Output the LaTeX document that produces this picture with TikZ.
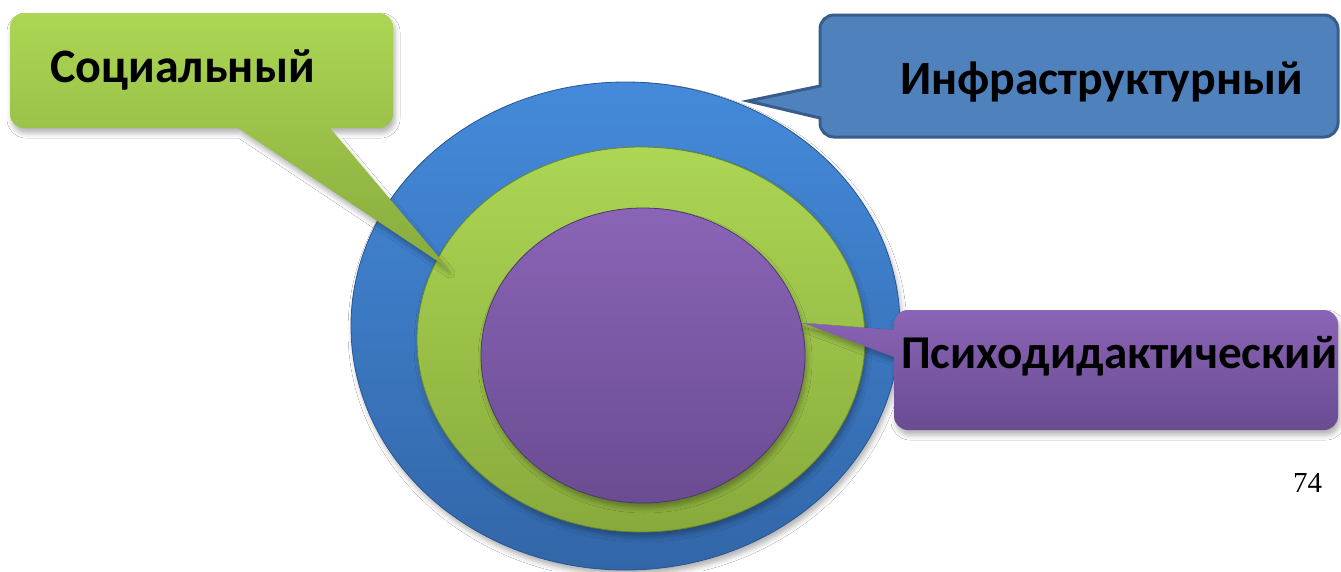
\documentclass[tikz,border=0pt]{standalone}
\usepackage{fontspec}
\newfontfamily\lblfont{Carlito}
\newfontfamily\numfont{Liberation Serif}
\usetikzlibrary{shapes.geometric,shadows.blur}
\definecolor{bluetop}{RGB}{68,138,218}
\definecolor{bluebot}{RGB}{50,102,168}
\definecolor{blueline}{RGB}{40,85,145}
\definecolor{greentop}{RGB}{172,214,84}
\definecolor{greenbot}{RGB}{136,170,60}
\definecolor{greenline}{RGB}{105,135,40}
\definecolor{purptop}{RGB}{138,100,182}
\definecolor{purpbot}{RGB}{106,76,146}
\definecolor{purpline}{RGB}{80,55,110}
\definecolor{infrafill}{RGB}{79,129,189}
\definecolor{infraline}{RGB}{56,93,138}
\tikzset{
  ring/.style={ellipse, inner sep=0pt, outer sep=0pt, line width=0.8pt},
  softshadow/.style={blur shadow={shadow xshift=2pt, shadow yshift=-5pt, shadow blur radius=5pt, shadow opacity=30}},
  lbl/.style={anchor=base west, inner sep=0pt, text=black},
  aTR/.style={start angle=-90, end angle=0, radius=14},
  aBR/.style={start angle=0, end angle=90, radius=14},
  aBL/.style={start angle=90, end angle=180, radius=14},
  aTL/.style={start angle=180, end angle=270, radius=14},
}
\begin{document}
\begin{tikzpicture}[x=1pt,y=-1pt]
\useasboundingbox (0,0) rectangle (1341,571);
\fill[white] (0,0) rectangle (1341,571);
% rings
\node[ring, softshadow, minimum width=549pt, minimum height=488pt,
      top color=bluetop, bottom color=bluebot, draw=blueline] (blue) at (625.5,326) {};
\node[ring, softshadow, minimum width=448pt, minimum height=385pt,
      top color=greentop, bottom color=greenbot, draw=greenline] (green) at (641,339.5) {};
\node[ring, softshadow, minimum width=324pt, minimum height=295pt,
      top color=purptop, bottom color=purpbot, draw=purpline] (purple) at (643,355.5) {};
% pointer tips
\coordinate (socTip) at (448,268);
\coordinate (infTip) at (748,101);
\coordinate (psyTip) at (803,323);
% Social callout
\path[softshadow, top color=greentop, bottom color=greenbot]
  (24,13) -- (379,13) arc[aTR] -- (393,114) arc[aBR] -- (330,128) -- (socTip)
  -- (238,128) -- (24,128) arc[aBL] -- (10,27) arc[aTL] -- cycle;
% Infrastructure callout
\path[fill=infrafill, draw=infraline, line width=3pt]
  (834,15) -- (1324,15) arc[aTR] -- (1338,123) arc[aBR] -- (834,137) arc[aBL]
  -- (820,118) -- (infTip) -- (820,86) -- (820,29) arc[aTL] -- cycle;
% Psychodidactic callout
\path[softshadow, top color=purptop, bottom color=purpbot]
  (908,310) -- (1324,310) arc[aTR] -- (1338,416) arc[aBR] -- (908,430) arc[aBL]
  -- (894,357) -- (psyTip) -- (894,330) -- (894,324) arc[aTL] -- cycle;
% labels
\node[lbl, font=\lblfont\bfseries\fontsize{48}{48}\selectfont] (soc) at (50,82) {Социальный};
\node[lbl, font=\lblfont\bfseries\fontsize{47.8}{47.8}\selectfont] (inf) at (900,94) {Инфраструктурный};
\node[lbl, font=\lblfont\bfseries\fontsize{47.1}{47.1}\selectfont] (psy) at (901,368) {Психодидактический};
\node[lbl, font=\numfont\fontsize{29}{29}\selectfont] (page) at (1293,492) {74};
\end{tikzpicture}
\end{document}
